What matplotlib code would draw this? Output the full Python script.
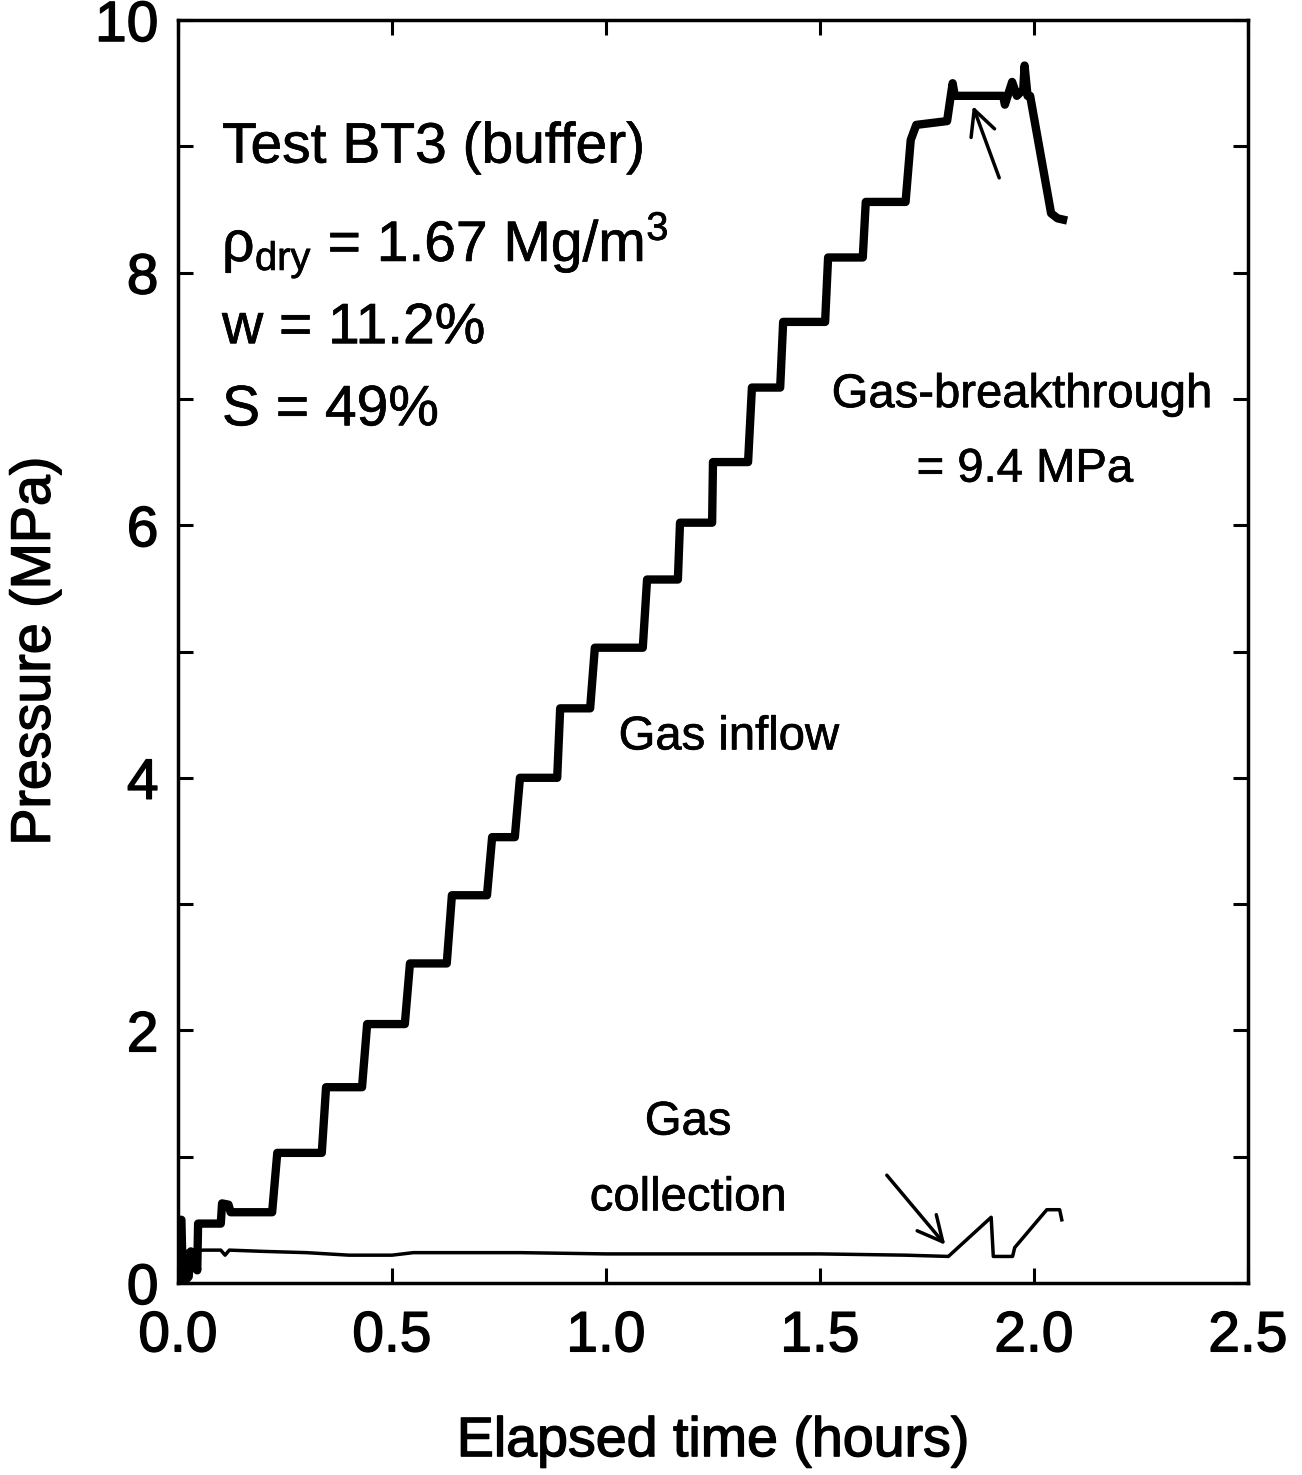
import numpy as np
import matplotlib
matplotlib.use("Agg")
import matplotlib.pyplot as plt
import matplotlib.patheffects as pe

plt.rcParams['font.family'] = ['Liberation Sans', 'DejaVu Sans']
plt.rcParams['mathtext.fontset'] = 'custom'
plt.rcParams['mathtext.rm'] = 'Liberation Sans'
plt.rcParams['mathtext.it'] = 'Liberation Sans:italic'

# Gas inflow pressure (thick line)
inflow_t = [0.000, 0.008, 0.010, 0.012, 0.025, 0.030, 0.040, 0.045, 0.047,
            0.100, 0.103, 0.118, 0.123, 0.220,
            0.232, 0.336, 0.346, 0.430, 0.442, 0.530, 0.542, 0.628, 0.640,
            0.722, 0.734, 0.787, 0.799, 0.886, 0.893, 0.963, 0.974,
            1.086, 1.096, 1.168, 1.173, 1.248, 1.250, 1.332, 1.341,
            1.407, 1.414, 1.512, 1.519, 1.600, 1.607, 1.700, 1.712, 1.725,
            1.797, 1.806, 1.810, 1.815, 1.928, 1.932, 1.949, 1.960,
            1.975, 1.978, 1.985, 1.991, 2.040, 2.055, 2.068]
inflow_p = [0.50, 0.50, 0.20, 0.00, 0.05, 0.25, 0.22, 0.10, 0.47,
            0.47, 0.63, 0.62, 0.56, 0.56,
            1.03, 1.03, 1.55, 1.55, 2.05, 2.05, 2.53, 2.53, 3.07,
            3.07, 3.53, 3.53, 4.00, 4.00, 4.55, 4.55, 5.03,
            5.03, 5.57, 5.57, 6.02, 6.02, 6.50, 6.50, 7.09,
            7.09, 7.61, 7.61, 8.12, 8.12, 8.56, 8.56, 9.05, 9.17,
            9.20, 9.41, 9.50, 9.40, 9.40, 9.33, 9.51, 9.40,
            9.45, 9.64, 9.40, 9.40, 8.47, 8.43, 8.42]

# Gas collection pressure (thin line)
coll_t = [0.016, 0.060, 0.100, 0.110, 0.120, 0.200, 0.300, 0.400, 0.500,
          0.550, 0.800, 1.000, 1.300, 1.500, 1.700, 1.800, 1.900, 1.905,
          1.950, 1.955, 2.030, 2.060, 2.065]
coll_p = [0.25, 0.26, 0.26, 0.22, 0.26, 0.25, 0.24, 0.22, 0.22,
          0.24, 0.24, 0.23, 0.23, 0.23, 0.22, 0.21, 0.52, 0.21,
          0.21, 0.28, 0.58, 0.58, 0.50]

x_ticks = [0.0, 0.5, 1.0, 1.5, 2.0, 2.5]
x_labels = ['0.0', '0.5', '1.0', '1.5', '2.0', '2.5']

fig = plt.figure(figsize=(13.02, 14.75), dpi=100)
ax = fig.add_axes([0.1367, 0.1302, 0.8218, 0.8562])

ax.plot(inflow_t, inflow_p, color='black', lw=6, solid_joinstyle='round')
ax.plot(coll_t, coll_p, color='black', lw=2.5)

# slightly heavier text, like the scanned original
thick = [pe.withStroke(linewidth=1.0, foreground='black')]
thin = [pe.withStroke(linewidth=0.5, foreground='black')]

ax.set_xlim(0, 2.5)
ax.set_ylim(0, 10)
ax.set_xticks(x_ticks)
ax.set_xticklabels(x_labels)
ax.set_yticks(np.arange(0, 11, 2))
ax.set_yticks(np.arange(1, 10, 2), minor=True)
ax.tick_params(axis='both', which='both', direction='in', top=True, right=True,
               width=2.2, length=11)
ax.tick_params(axis='x', which='major', labelsize=41, pad=19)
ax.tick_params(axis='y', which='major', labelsize=41, pad=14)
for lab in ax.get_xticklabels() + ax.get_yticklabels():
    lab.set_path_effects(thick)
for sp in ax.spines.values():
    sp.set_linewidth(2.5)

xl = ax.set_xlabel('Elapsed time (hours)', fontsize=40, labelpad=38)
yl = ax.set_ylabel('Pressure (MPa)', fontsize=40, labelpad=24)
xl.set_path_effects(thick)
yl.set_path_effects(thick)

fs = 41
for y, s in [(8.99, 'Test BT3 (buffer)'),
             (8.22, r'ρ$_{\rm dry}$ = 1.67 Mg/m$^3$'),
             (7.56, 'w = 11.2%'),
             (6.91, 'S = 49%')]:
    ax.text(0.103, y, s, fontsize=fs, va='center', ha='left', path_effects=thin)

fs2 = 34
for x, y, s in [(1.972, 7.03, 'Gas-breakthrough'),
                (1.979, 6.44, '= 9.4 MPa'),
                (1.287, 4.32, 'Gas inflow'),
                (1.192, 1.27, 'Gas'),
                (1.192, 0.67, 'collection')]:
    ax.text(x, y, s, fontsize=fs2, ha='center', va='center', path_effects=thin)

ax.annotate('', xy=(1.855, 9.34), xytext=(1.921, 8.73),
            arrowprops=dict(arrowstyle='->', lw=2.5, color='black',
                            mutation_scale=45))
ax.annotate('', xy=(1.797, 0.285), xytext=(1.652, 0.87),
            arrowprops=dict(arrowstyle='->', lw=2.5, color='black',
                            mutation_scale=45))

fig.savefig('out.png', dpi=100)
